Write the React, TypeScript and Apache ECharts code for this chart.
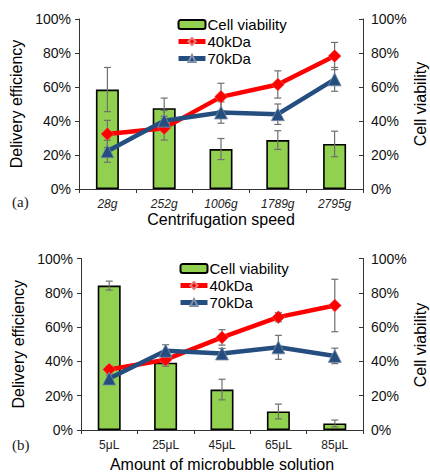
import React, { useEffect, useRef } from "react";
import * as echarts from "echarts";

const speedCats = ["28g", "252g", "1006g", "1789g", "2795g"];
const volumeCats = ["5μL", "25μL", "45μL", "65μL", "85μL"];

// (a) centrifugation speed
const viabilityA = [58.5, 47.5, 23.5, 28.8, 26.5];
const viabilityAErr = [13, 6, 6.2, 5.5, 7.5];
const kda40A = [32.4, 35.8, 54.2, 61.5, 78.2];
const kda40AErr = [8, 7, 8, 8, 8];
const kda70A = [22.2, 40.2, 45, 44, 64.5];
const kda70AErr = [6.5, 6, 6.3, 6, 7];

// (b) amount of microbubble solution
const viabilityB = [84.2, 39.2, 23.6, 10.8, 3.8];
const viabilityBErr = [2.6, 2, 6, 4.3, 2];
const kda40B = [35.3, 41, 54, 65.8, 72.6];
const kda40BErr = [2, 2.5, 4.5, 2.7, 15.3];
const kda70B = [30, 46.2, 44.6, 48.2, 43.2];
const kda70BErr = [2, 3.5, 3, 7, 4.5];

const GREEN = "#92D050";
const RED = "#FF0000";
const BLUE = "#254E80";
const ERR = "#6f6f6f";

function errData(vals: number[], errs: number[]) {
  return vals.map((v, i) => [i, v - errs[i], v + errs[i]]);
}

const errRender = (params: any, api: any) => {
  const x = api.value(0);
  const lo = api.coord([x, api.value(1)]);
  const hi = api.coord([x, api.value(2)]);
  const hw = 3.5;
  const style = { stroke: ERR, lineWidth: 1.2 };
  return {
    type: "group",
    children: [
      { type: "line", shape: { x1: lo[0], y1: lo[1], x2: hi[0], y2: hi[1] }, style },
      { type: "line", shape: { x1: lo[0] - hw, y1: lo[1], x2: lo[0] + hw, y2: lo[1] }, style },
      { type: "line", shape: { x1: hi[0] - hw, y1: hi[1], x2: hi[0] + hw, y2: hi[1] }, style },
    ],
  };
};

const FONT = "Liberation Sans, Arial, sans-serif";

function makeX(cats: string[], grid: number, name: string, italic: boolean, gap: number) {
  return {
    type: "category",
    gridIndex: grid,
    data: cats,
    boundaryGap: true,
    axisLine: { lineStyle: { color: "#333", width: 1 } },
    axisTick: { show: true, inside: false, length: 4, alignWithLabel: false, lineStyle: { color: "#333" } },
    axisLabel: { fontSize: 12, color: "#222", fontStyle: italic ? "italic" : "normal", fontFamily: FONT, margin: 9 },
    name,
    nameLocation: "middle",
    nameGap: gap,
    nameTextStyle: { fontSize: 16, color: "#000", fontFamily: FONT },
  };
}

function makeY(grid: number, right: boolean, name: string) {
  return {
    type: "value",
    gridIndex: grid,
    position: right ? "right" : "left",
    min: 0,
    max: 100,
    interval: 20,
    splitLine: { show: false },
    axisLine: { show: true, lineStyle: { color: "#333", width: 1 } },
    axisTick: { show: true, inside: right, length: 4, lineStyle: { color: "#333" } },
    axisLabel: { fontSize: 14, color: "#111", fontFamily: FONT, formatter: "{value}%", margin: 8 },
    name: right ? "" : name,
    nameLocation: "middle",
    nameGap: 53,
    nameRotate: 90,
    nameTextStyle: { fontSize: 16, color: "#000", fontFamily: FONT },
  };
}

function seriesFor(
  grid: number,
  viab: number[],
  viabErr: number[],
  k40: number[],
  k40Err: number[],
  k70: number[],
  k70Err: number[]
) {
  const yL = grid * 2;
  const yR = grid * 2 + 1;
  return [
    {
      name: "Cell viability",
      type: "bar",
      xAxisIndex: grid,
      yAxisIndex: yR,
      data: viab,
      barWidth: 23,
      itemStyle: { color: GREEN, borderColor: "#000", borderWidth: 1.6 },
      z: 2,
    },
    {
      type: "custom",
      xAxisIndex: grid,
      yAxisIndex: yR,
      renderItem: errRender,
      data: errData(viab, viabErr),
      encode: { x: 0, y: [1, 2] },
      z: 3,
      silent: true,
    },
    {
      type: "custom",
      xAxisIndex: grid,
      yAxisIndex: yL,
      renderItem: errRender,
      data: errData(k40, k40Err),
      encode: { x: 0, y: [1, 2] },
      z: 4,
      silent: true,
    },
    {
      type: "custom",
      xAxisIndex: grid,
      yAxisIndex: yL,
      renderItem: errRender,
      data: errData(k70, k70Err),
      encode: { x: 0, y: [1, 2] },
      z: 4,
      silent: true,
    },
    {
      name: "40kDa",
      type: "line",
      xAxisIndex: grid,
      yAxisIndex: yL,
      data: k40,
      symbol: "diamond",
      symbolSize: 13,
      lineStyle: { color: RED, width: 4.5 },
      itemStyle: { color: RED, borderColor: "#e08080", borderWidth: 0.5 },
      z: 5,
    },
    {
      name: "70kDa",
      type: "line",
      xAxisIndex: grid,
      yAxisIndex: yL,
      data: k70,
      symbol: "triangle",
      symbolSize: 13,
      lineStyle: { color: BLUE, width: 4.5 },
      itemStyle: { color: BLUE, borderColor: "#7f8fa6", borderWidth: 0.8 },
      z: 6,
    },
  ];
}

function makeLegend(top: number, left: number) {
  return {
    orient: "vertical",
    top,
    left,
    itemWidth: 27,
    itemHeight: 9,
    itemGap: 2,
    data: ["Cell viability", "40kDa", "70kDa"],
    lineStyle: { width: 5 },
    textStyle: { fontSize: 15, color: "#000", fontFamily: FONT, padding: [0, 0, 0, -3] },
    selectedMode: false,
  };
}

export default function App() {
  const ref = useRef<HTMLDivElement>(null);
  useEffect(() => {
    document.body.style.margin = "0";
    if (!ref.current) return;
    const chart = echarts.init(ref.current, null, { renderer: "svg" });
    const rightTitle = (y: number) => ({
      type: "text",
      x: 420,
      y,
      rotation: Math.PI / 2,
      style: {
        text: "Cell viability",
        fontSize: 16,
        fontFamily: FONT,
        fill: "#000",
        align: "center",
        verticalAlign: "middle",
      },
    });
    chart.setOption({
      animation: false,
      backgroundColor: "#fff",
      grid: [
        { left: 79, top: 19, width: 284, height: 170 },
        { left: 81, top: 258.5, width: 282, height: 172.5 },
      ],
      legend: [makeLegend(12, 171), makeLegend(256, 173)],
      xAxis: [
        makeX(speedCats, 0, "Centrifugation speed", true, 22),
        makeX(volumeCats, 1, "Amount of microbubble solution", false, 26),
      ],
      yAxis: [
        makeY(0, false, "Delivery efficiency"),
        makeY(0, true, "Cell viability"),
        makeY(1, false, "Delivery efficiency"),
        makeY(1, true, "Cell viability"),
      ],
      graphic: [
        rightTitle(104),
        rightTitle(345),
        { type: "text", left: 12, top: 194, style: { text: "(a)", fontSize: 15, fontFamily: "Liberation Serif, Times New Roman, serif", fill: "#222" } },
        { type: "text", left: 12, top: 437, style: { text: "(b)", fontSize: 15, fontFamily: "Liberation Serif, Times New Roman, serif", fill: "#222" } },
      ],
      series: [
        ...seriesFor(0, viabilityA, viabilityAErr, kda40A, kda40AErr, kda70A, kda70AErr),
        ...seriesFor(1, viabilityB, viabilityBErr, kda40B, kda40BErr, kda70B, kda70BErr),
      ],
    });
    return () => chart.dispose();
  }, []);
  return <div ref={ref} style={{ width: 430, height: 473 }} />;
}
